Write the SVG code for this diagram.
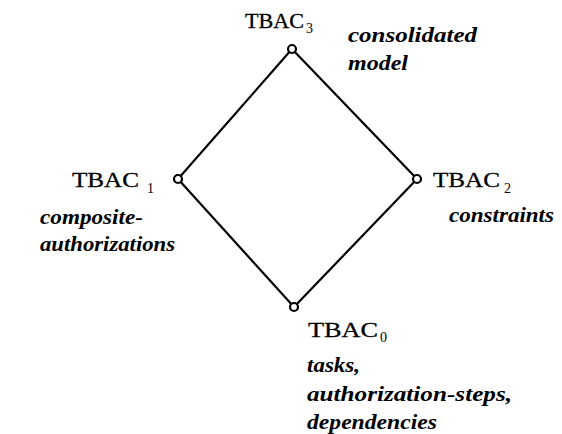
<svg xmlns="http://www.w3.org/2000/svg" width="562" height="434" viewBox="0 0 562 434">
<style>
.lbl{font-family:"Liberation Serif","Times New Roman",serif;font-size:21px;fill:#000;stroke:#000;stroke-width:0.3}
.sub{font-family:"Liberation Serif","Times New Roman",serif;font-size:14px;fill:#000}
.desc{font-family:"Liberation Serif","DejaVu Serif",serif;font-size:20px;font-style:italic;font-weight:bold;fill:#000}
.edge{stroke:#000;stroke-width:2.2;fill:none}
.pt{fill:#fff;stroke:#000;stroke-width:2.2}
</style>
<rect width="562" height="434" fill="#fff"/>
<g id="connectors">
<line class="edge" x1="292" y1="49" x2="178" y2="179"/>
<line class="edge" x1="292" y1="49" x2="417" y2="179"/>
<line class="edge" x1="178" y1="179" x2="294" y2="307"/>
<line class="edge" x1="417" y1="179" x2="294" y2="307"/>
</g>
<g id="tbac3">
<circle class="pt" cx="292" cy="49" r="4"/>
<text class="lbl" x="245" y="28" textLength="59" lengthAdjust="spacingAndGlyphs">TBAC</text>
<text class="sub" x="306" y="33">3</text>
<text class="desc" x="348" y="42" textLength="129" lengthAdjust="spacingAndGlyphs">consolidated</text>
<text class="desc" x="348" y="70" textLength="60" lengthAdjust="spacingAndGlyphs">model</text>
</g>
<g id="tbac1">
<circle class="pt" cx="178" cy="179" r="4"/>
<text class="lbl" x="72" y="187" textLength="67" lengthAdjust="spacingAndGlyphs">TBAC</text>
<text class="sub" x="147" y="193">1</text>
<text class="desc" x="40" y="224" textLength="103" lengthAdjust="spacingAndGlyphs">composite-</text>
<text class="desc" x="40" y="251" textLength="135" lengthAdjust="spacingAndGlyphs">authorizations</text>
</g>
<g id="tbac2">
<circle class="pt" cx="417" cy="179" r="4"/>
<text class="lbl" x="433" y="187" textLength="67" lengthAdjust="spacingAndGlyphs">TBAC</text>
<text class="sub" x="504" y="193">2</text>
<text class="desc" x="449" y="222" textLength="105" lengthAdjust="spacingAndGlyphs">constraints</text>
</g>
<g id="tbac0">
<circle class="pt" cx="294" cy="307" r="4"/>
<text class="lbl" x="308" y="337" textLength="70" lengthAdjust="spacingAndGlyphs">TBAC</text>
<text class="sub" x="380" y="342">0</text>
<text class="desc" x="307" y="372" textLength="53" lengthAdjust="spacingAndGlyphs">tasks,</text>
<text class="desc" x="307" y="401" textLength="205" lengthAdjust="spacingAndGlyphs">authorization-steps,</text>
<text class="desc" x="307" y="429" textLength="130" lengthAdjust="spacingAndGlyphs">dependencies</text>
</g>
</svg>
